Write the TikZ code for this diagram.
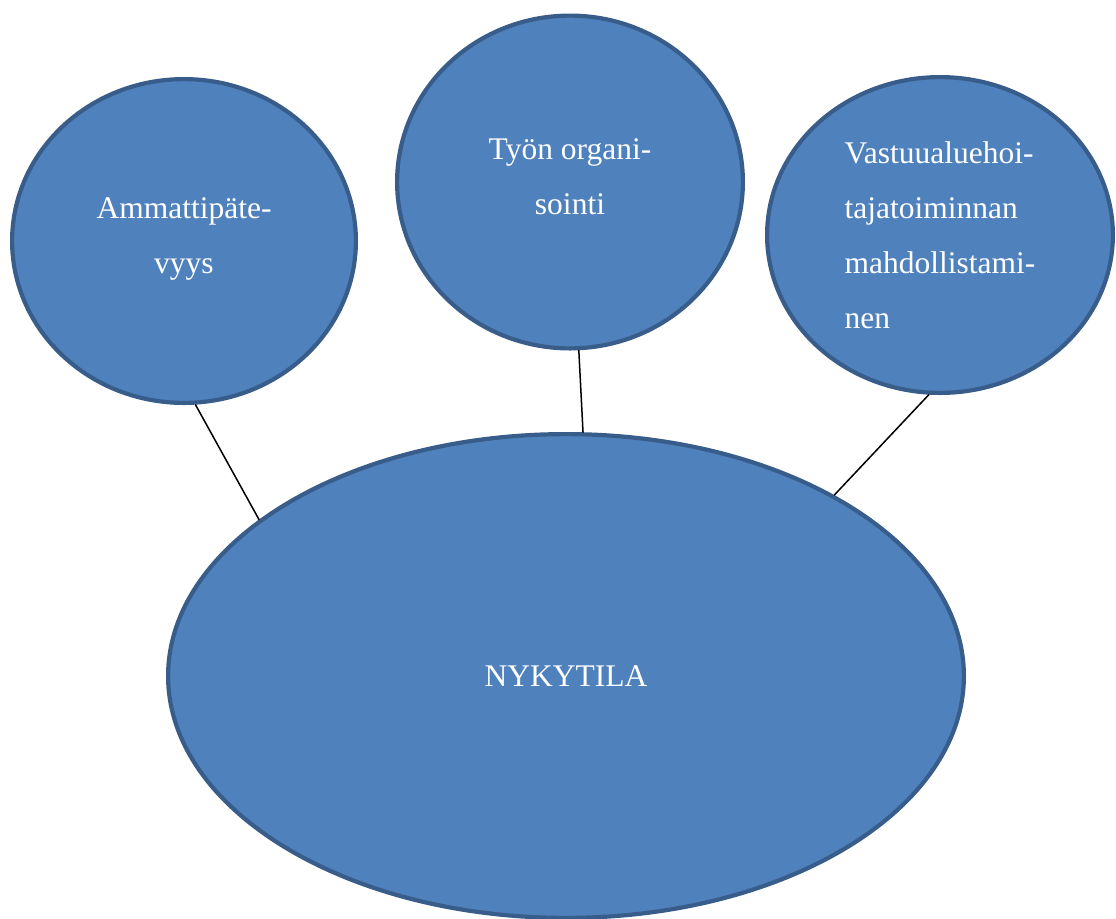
\documentclass[tikz,border=0pt]{standalone}
\usepackage{fontspec}
\setmainfont{Liberation Serif}
\usetikzlibrary{shapes.geometric}
\definecolor{pallosini}{HTML}{4F81BD}
\definecolor{reunasini}{HTML}{385D8A}
\begin{document}
\begin{tikzpicture}[x=0.5pt,y=-0.5pt,line join=round,line cap=round,
	pallo/.style={ellipse,draw=reunasini,line width=2.1pt,fill=pallosini,text=white,inner sep=0pt,align=center,font=\fontsize{15.75}{27.5}\selectfont}]
	\useasboundingbox (0,0) rectangle (1116,918);
	% pallot
	\node[pallo,minimum width=171.9pt,minimum height=161.9pt,text depth=5pt] (ammatti) at (184,241) {Ammattipäte-\\vyys};
	\node[pallo,minimum width=172.9pt,minimum height=166.4pt,text depth=5pt] (tyo) at (570,182) {Työn organi-\\sointi};
	\node[pallo,minimum width=172.9pt,minimum height=157.9pt,align=left] (vastuu) at (940,235) {Vastuualuehoi-\\tajatoiminnan\\mahdollistami-\\nen};
	\node[pallo,minimum width=397.9pt,minimum height=241.9pt] (nyky) at (566,676) {NYKYTILA};
	% viivat
	\draw[line width=0.75pt] (ammatti.-86) -- (nyky.153);
	\draw[line width=0.75pt] (tyo.-87) -- (nyky.86);
	\draw[line width=0.75pt] (vastuu.-94) -- (nyky.34);
\end{tikzpicture}
\end{document}
